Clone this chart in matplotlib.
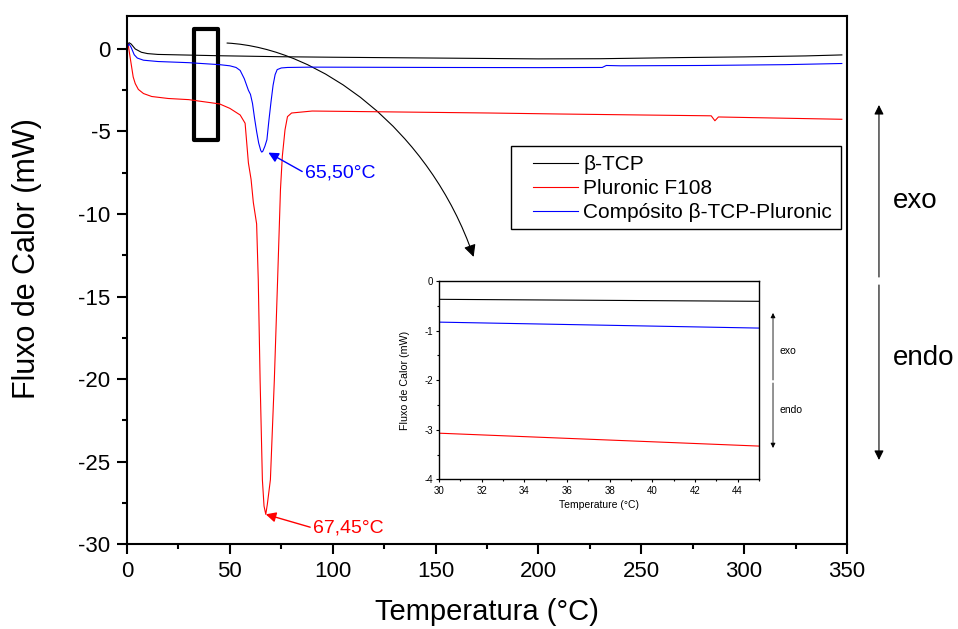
import numpy as np
import matplotlib
matplotlib.use("Agg")
import matplotlib.pyplot as plt
from matplotlib.patches import FancyArrowPatch, Rectangle
from matplotlib.path import Path
from matplotlib.ticker import MultipleLocator

plt.rcParams.update({"font.family": ["Liberation Sans", "DejaVu Sans"],
                     "axes.unicode_minus": False, "mathtext.default": "regular"})

# --- DSC curves ---
tcp_x = [0, 1, 2, 4, 7, 10, 15, 30, 45, 75, 100, 150, 200, 230, 270, 300, 330, 347.5]
tcp_y = [0.2, 0.38, 0.3, 0.0, -0.2, -0.28, -0.33, -0.37, -0.41, -0.47, -0.5, -0.55, -0.6, -0.59, -0.52, -0.48, -0.42, -0.36]

plu_x = [0, 0.5, 1.5, 3, 4, 5.5, 8, 12, 20, 30, 45, 50, 55, 57.4, 59, 60.3, 61.4, 63, 63.8, 64.7, 65.8, 66.6, 67.45,
         68.2, 69.7, 71.6, 73.2, 74.6, 75.5, 76.8, 78, 80, 90, 176, 210, 250, 284, 285.8, 287.5, 300, 347.5]
plu_y = [0.2, 0.3, -0.5, -1.7, -2.1, -2.45, -2.7, -2.88, -3.0, -3.07, -3.33, -3.6, -4.0, -4.5, -6.9, -7.9, -9.3, -10.6, -14.0, -20.1, -26.1, -27.7, -28.2,
         -27.6, -26.1, -20.1, -14.0, -8.5, -6.5, -4.9, -4.1, -3.88, -3.76, -3.88, -3.94, -4.0, -4.05, -4.35, -4.12, -4.15, -4.26]

comp_x = [0, 1, 2, 3.5, 5, 8, 15, 30, 45, 50, 53, 55, 57, 59, 60, 61, 62, 63, 64, 65, 65.5, 66, 67, 68, 69, 70, 71, 72, 73, 75,
          78, 90, 150, 200, 231, 233, 240, 280, 320, 347.5]
comp_y = [0.1, 0.3, 0.1, -0.35, -0.55, -0.68, -0.76, -0.83, -0.95, -1.02, -1.12, -1.3, -1.8, -2.5, -2.75, -3.3, -4.2, -5.0, -5.7, -6.15,
          -6.25, -6.2, -5.9, -5.5, -4.3, -3.2, -2.2, -1.55, -1.25, -1.15, -1.12, -1.1, -1.12, -1.13, -1.12, -1.0, -1.02, -1.0, -0.95, -0.88]

peak_labels = ["65,50°C", "67,45°C"]

fig = plt.figure(figsize=(9.58, 6.29), dpi=100)
ax = fig.add_axes([0.1326, 0.1351, 0.7515, 0.8395])
ax.plot(tcp_x, tcp_y, color="black", lw=0.8, label="β-TCP")
ax.plot(plu_x, plu_y, color="red", lw=0.8, label="Pluronic F108")
ax.plot(comp_x, comp_y, color="blue", lw=0.8, label="Compósito β-TCP-Pluronic")
ax.set_xlim(0, 350); ax.set_ylim(-30, 2)
ax.xaxis.set_major_locator(MultipleLocator(50)); ax.xaxis.set_minor_locator(MultipleLocator(25))
ax.yaxis.set_major_locator(MultipleLocator(5)); ax.yaxis.set_minor_locator(MultipleLocator(2.5))
ax.tick_params(which="major", direction="out", length=7, width=1.5, labelsize=16, pad=5)
ax.tick_params(which="minor", direction="out", length=3.5, width=1.5)
for s in ax.spines.values(): s.set_linewidth(1.5)
ax.set_xlabel("Temperatura (°C)", fontsize=21)
ax.set_ylabel("Fluxo de Calor (mW)", fontsize=22)
ax.xaxis.set_label_coords(0.5, -0.102)
ax.yaxis.set_label_coords(-0.118, 0.54)

# zoom box + curved arrow to inset
ax.add_patch(Rectangle((32.5, -5.52), 11.7, 6.73, fill=False, lw=3, ec="black", joinstyle="round"))
verts = [(48.6, 0.36), (93.8, 0.06), (147.3, -4.91), (168.5, -12.6)]
ax.add_patch(FancyArrowPatch(path=Path(verts, [Path.MOVETO, Path.CURVE4, Path.CURVE4, Path.CURVE4]),
                             arrowstyle="-|>", mutation_scale=18, lw=0.8, color="black"))

ax.annotate(peak_labels[0], xy=(68.7, -6.28), xytext=(86.5, -7.52), color="blue", fontsize=14, va="center",
            arrowprops=dict(arrowstyle="-|>", color="blue", lw=1, mutation_scale=15, relpos=(0, 0.5), shrinkA=0, shrinkB=0))
ax.annotate(peak_labels[1], xy=(67.45, -28.2), xytext=(90.4, -29.03), color="red", fontsize=14, va="center",
            arrowprops=dict(arrowstyle="-|>", color="red", lw=1, mutation_scale=15, relpos=(0, 0.5), shrinkA=0, shrinkB=0))

# legend with a separately drawn frame (wide left margin as in the original)
ax.legend(loc="upper left", bbox_to_anchor=(0.5639, 0.737), fontsize=15, frameon=False,
          handlelength=2.15, handletextpad=0.25, labelspacing=0.25, borderpad=0, borderaxespad=0)
ax.add_patch(Rectangle((0.533, 0.597), 0.459, 0.157, transform=ax.transAxes, fill=False, lw=1.0, ec="black"))

# inset 30-45 degC
axin = fig.add_axes([0.4582, 0.238, 0.334, 0.3153])
axin.plot(tcp_x, tcp_y, color="black", lw=0.8)
axin.plot(plu_x, plu_y, color="red", lw=0.8)
axin.plot(comp_x, comp_y, color="blue", lw=0.8)
axin.set_xlim(30, 45); axin.set_ylim(-4, 0)
axin.xaxis.set_major_locator(MultipleLocator(2)); axin.xaxis.set_minor_locator(MultipleLocator(1))
axin.yaxis.set_major_locator(MultipleLocator(1)); axin.yaxis.set_minor_locator(MultipleLocator(0.5))
axin.tick_params(which="major", direction="out", length=2.5, width=0.8, labelsize=7, pad=2)
axin.tick_params(which="minor", direction="out", length=1.5, width=0.8)
for s in axin.spines.values(): s.set_linewidth(1.0)
axin.set_xlabel("Temperature (°C)", fontsize=7.5, labelpad=3)
axin.set_ylabel("Fluxo de Calor (mW)", fontsize=7.7, labelpad=10)

# exo / endo arrows
def arr(x, y0, y1, ms, lw):
    fig.add_artist(FancyArrowPatch((x, y0), (x, y1), transform=fig.transFigure, arrowstyle="-|>",
                                   mutation_scale=ms, lw=lw, color="black", shrinkA=0, shrinkB=0))
arr(0.9175, 0.5596, 0.8331, 14, 0.8); arr(0.9175, 0.5469, 0.2687, 14, 0.8)
fig.text(0.9322, 0.6804, "exo", fontsize=20, va="center")
fig.text(0.9322, 0.4308, "endo", fontsize=20, va="center")
arr(0.8069, 0.3959, 0.5024, 7, 0.6); arr(0.8069, 0.3911, 0.2878, 7, 0.6)
fig.text(0.8132, 0.442, "exo", fontsize=7.5, va="center")
fig.text(0.8132, 0.3482, "endo", fontsize=7.5, va="center")

fig.savefig("out.png", dpi=100)
